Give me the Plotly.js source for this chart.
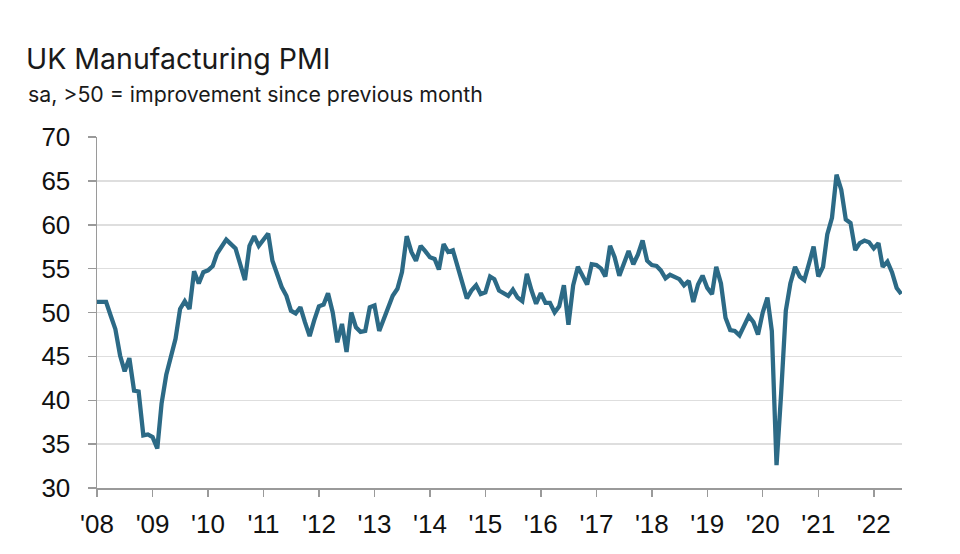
<!DOCTYPE html>
<html>
<head>
<meta charset="utf-8">
<script src="https://cdn.plot.ly/plotly-3.0.1.min.js"></script>
<style>html,body{margin:0;padding:0;background:#fff;}#chart{width:960px;height:554px;}</style>
</head>
<body>
<div id="chart"></div>
<script>
// Monthly UK Manufacturing PMI, Jan 2008 .. Jul 2022
var startYear = 2008;
var pmi = [
  51.2, 51.2, 51.2, 49.6, 48.1, 45.1, 43.3, 44.8, 41.1, 41.0, 36.0, 36.1,   // 2008
  35.8, 34.5, 39.6, 42.9, 45.0, 47.0, 50.4, 51.3, 50.4, 54.7, 53.3, 54.6,   // 2009
  54.8, 55.3, 56.7, 57.5, 58.3, 57.8, 57.3, 55.5, 53.7, 57.6, 58.7, 57.6,   // 2010
  58.4, 59.0, 55.9, 54.2, 52.9, 51.9, 50.2, 49.9, 50.6, 48.9, 47.3, 49.1,   // 2011
  50.7, 50.9, 52.2, 50.0, 46.6, 48.7, 45.5, 50.0, 48.3, 47.8, 47.9, 50.6,   // 2012
  50.8, 47.9, 49.2, 50.6, 51.9, 52.7, 54.6, 58.7, 56.9, 55.9, 57.6, 57.0,   // 2013
  56.3, 56.1, 54.9, 57.8, 56.9, 57.1, 55.4, 53.3, 51.6, 52.5, 53.1, 52.1,   // 2014
  52.3, 54.1, 53.8, 52.5, 52.2, 51.9, 52.6, 51.7, 51.3, 54.4, 52.5, 51.0,   // 2015
  52.2, 51.1, 51.1, 50.0, 50.7, 53.1, 48.6, 53.1, 55.2, 54.1, 53.2, 55.5,   // 2016
  55.4, 55.0, 54.1, 57.6, 56.3, 54.2, 55.5, 57.0, 55.5, 56.6, 58.2, 55.9,   // 2017
  55.4, 55.3, 54.8, 53.9, 54.3, 54.1, 53.8, 53.1, 53.6, 51.2, 53.2, 54.2,   // 2018
  52.8, 52.1, 55.2, 53.3, 49.4, 48.0, 47.9, 47.4, 48.5, 49.6, 48.9, 47.5,   // 2019
  50.0, 51.7, 47.9, 32.6, 40.7, 50.2, 53.3, 55.2, 54.1, 53.7, 55.6, 57.5,   // 2020
  54.1, 55.2, 58.9, 60.8, 65.7, 64.0, 60.6, 60.2, 57.1, 57.9, 58.2, 58.0,   // 2021
  57.3, 57.9, 55.2, 55.8, 54.6, 52.8, 52.1                                  // 2022
];
var tickYears = [2008,2009,2010,2011,2012,2013,2014,2015,2016,2017,2018,2019,2020,2021,2022];
var tickLabels = ["'08","'09","'10","'11","'12","'13","'14","'15","'16","'17","'18","'19","'20","'21","'22"];
var yTicks = [30,35,40,45,50,55,60,65,70];

var dates = [];
for (var i = 0; i < pmi.length; i++) {
  var y = startYear + Math.floor(i / 12);
  var m = (i % 12) + 1;
  dates.push(y + '-' + (m < 10 ? '0' + m : m) + '-01');
}
var tickVals = tickYears.map(function (y) { return y + '-01-01'; });

var trace = {
  x: dates, y: pmi, type: 'scatter', mode: 'lines',
  line: {color: '#2c6a86', width: 4.3},
  hoverinfo: 'x+y'
};

var tickFont = {family: 'Liberation Sans, Arial, sans-serif', size: 26, color: '#111'};

var layout = {
  width: 960, height: 554,
  margin: {l: 97, r: 58, t: 137, b: 66},
  paper_bgcolor: '#fff', plot_bgcolor: '#fff',
  showlegend: false,
  title: {
    text: 'UK Manufacturing PMI',
    font: {family: 'Inter, Open Sans, sans-serif', size: 28.5, color: '#1a1a1a'},
    x: 26 / 960, xanchor: 'left', xref: 'container',
    y: 1 - 49 / 554, yanchor: 'top', yref: 'container'
  },
  annotations: [{
    text: 'sa, >50 = improvement since previous month',
    xref: 'paper', yref: 'paper',
    x: (26 - 97) / 805, xanchor: 'left',
    y: (488 - 79) / 351, yanchor: 'top',
    showarrow: false,
    font: {family: 'Inter, Open Sans, sans-serif', size: 21.3, color: '#1a1a1a'}
  }],
  xaxis: {
    type: 'date',
    range: ['2008-01-01', '2022-07-06'],
    tickmode: 'array', tickvals: tickVals, ticktext: tickLabels,
    showgrid: false, zeroline: false,
    showline: true, linecolor: '#9a9a9a', linewidth: 1.5,
    ticks: 'outside', ticklen: 7, tickwidth: 1.5, tickcolor: '#9a9a9a',
    tickfont: tickFont, ticklabelstandoff: 5
  },
  yaxis: {
    range: [30, 70],
    tickmode: 'array', tickvals: yTicks,
    showgrid: true, gridcolor: '#dedede', gridwidth: 1.5,
    zeroline: false,
    showline: true, linecolor: '#9a9a9a', linewidth: 1.5,
    ticks: 'outside', ticklen: 8, tickwidth: 1.5, tickcolor: '#9a9a9a',
    tickfont: tickFont, ticklabelstandoff: 12
  }
};

Plotly.newPlot('chart', [trace], layout, {displayModeBar: false, staticPlot: true});
</script>
</body>
</html>
